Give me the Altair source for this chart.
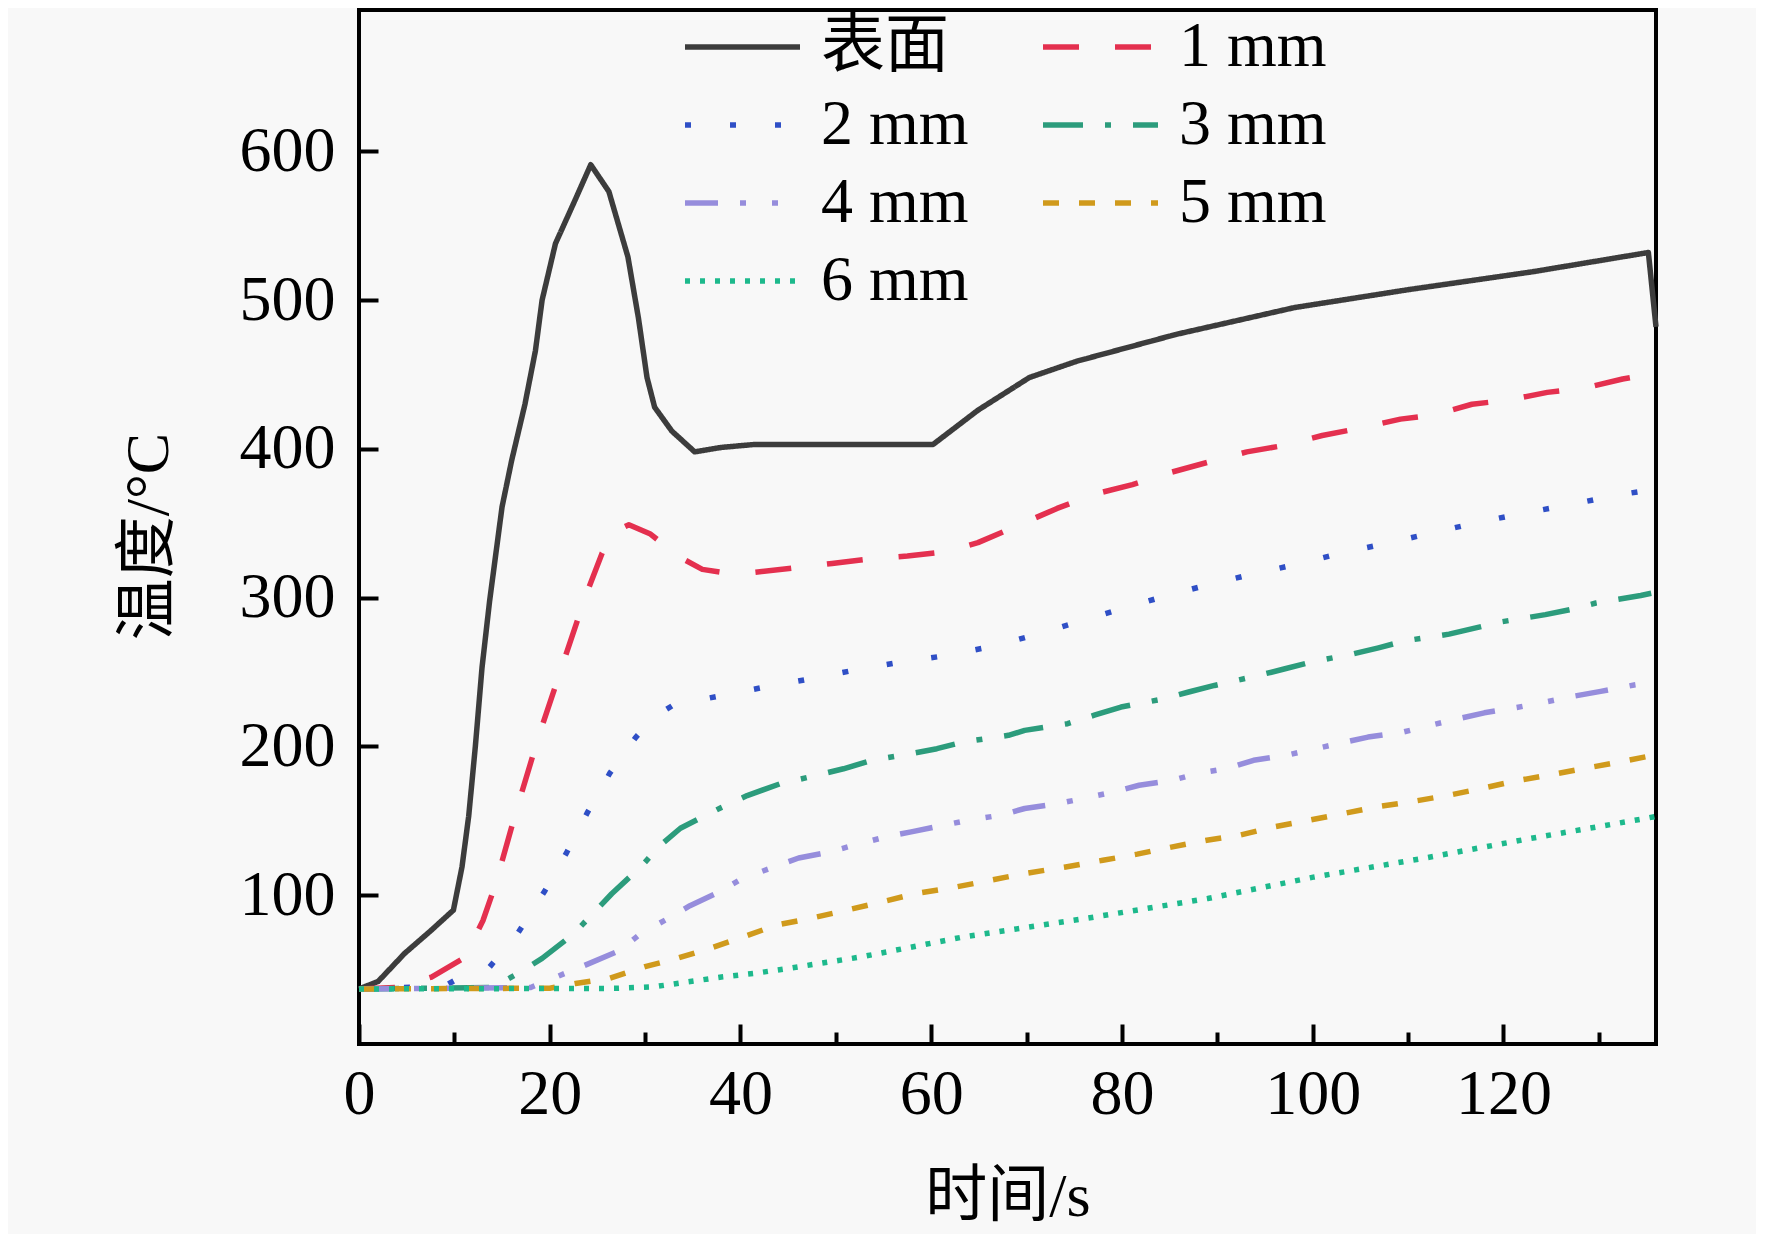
import altair as alt
import pandas as pd

# ---- data ----
series_names = ["表面", "1 mm", "2 mm", "3 mm", "4 mm", "5 mm", "6 mm"]

surface_t = [0, 2, 4.8, 7.5, 9.9, 10.8, 11.5, 12.2, 12.9, 13.7, 15, 16, 17.4, 18.5, 19.2, 20.6, 22.5,
             24.3, 26.2, 28.2, 29.3, 30.2, 31, 32.8, 35.2, 38, 41.5, 46.8, 60.2, 64.9, 70.3, 75.3,
             85.7, 98.1, 110, 123, 135.2, 136]
surface_T = [37, 42, 61, 76, 90, 119, 153, 200, 253, 298, 361, 392, 430, 466, 500, 538, 565,
             591, 573, 529, 488, 448, 428, 412, 398, 401, 403, 403, 403, 426, 448, 459,
             477, 495, 507, 519, 532, 482]

mm1_t = [0, 4, 7.6, 10.8, 12, 13, 14.3, 16.5, 18.8, 21.4, 23.7, 25.5, 27, 28.3, 30.5, 33.7, 36, 38,
         41.4, 45.7, 49.6, 53.5, 57.5, 61.6, 64.9, 68.9, 73.2, 77.4, 81.1, 85, 89, 93.1, 96.7, 101,
         105, 109.2, 112.9, 116.7, 120.7, 124.6, 128.6, 132.5, 136]
mm1_T = [37, 38, 45, 57, 70, 83, 107, 157, 206, 256, 300, 330, 345, 349, 343, 327, 319, 317,
         317, 320, 323, 326, 328, 331, 337, 348, 360, 370, 376, 384, 391, 398, 402, 409,
         414, 420, 423, 430, 433, 438, 441, 447, 451]

mm2_t = [0, 9, 10.1, 13.6, 16.7, 19.5, 21.8, 23.9, 26.3, 29, 31, 33, 37.9, 42.6, 47.4, 52.1, 56.8,
         61.5, 66.2, 70.3, 75, 79.7, 84.4, 89.1, 93.8, 98.5, 103.3, 108.1, 112.7, 117.4, 122.3,
         127.2, 131.9, 135]
mm2_T = [37, 39, 43, 51, 75, 103, 129, 155, 182, 206, 220, 228, 234, 240, 245.5, 251.5, 256.7,
         261, 267, 274, 283, 292, 300.8, 308.8, 316, 322.7, 330.5, 337, 343.8, 350.7, 357,
         362.8, 368.9, 372]

mm3_t = [0, 14, 16.7, 19.2, 22.5, 26.5, 29.7, 31.4, 33.7, 38, 40.7, 44.2, 48, 50.8, 53.8, 57.9,
         60.6, 63.4, 68.1, 69.8, 74.3, 77.1, 79.9, 84.4, 87, 89.7, 94.3, 97.1, 99.8, 104.3, 106.9,
         109.7, 114.3, 117.1, 119.9, 124.4, 127, 129.7, 134.4, 135.5]
mm3_T = [37, 38, 47.5, 57.5, 74, 101, 120, 132.5, 145, 159, 167, 175, 180.6, 185, 190.7, 195.2,
         198.5, 203, 207.5, 210.8, 215.3, 221, 226.5, 232, 236.6, 241, 247.7, 252.2, 256.7, 262.3, 266.3,
         271, 275.5, 279.7, 283.9, 288.6, 292, 296.4, 301.5, 303]

mm4_t = [0, 18, 21.6, 24.1, 27.4, 29.5, 32.3, 34.7, 37.7, 40.1, 43.1, 46.1, 49.3, 51.9, 55.1, 57.9,
         61.3, 63.9, 67.3, 69.8, 73.3, 75.9, 79.1, 81.8, 85.3, 87.9, 91, 93.8, 97.2, 99.8, 103,
         105.8, 109.5, 112.2, 115.1, 118, 121.4, 124.2, 127.4, 130.2, 133.7, 135.5]
mm4_T = [37, 38, 47.5, 54, 63, 74, 84, 93, 102, 111, 118, 125, 129, 133.6, 139, 142.6,
         147, 150.4, 153.8, 158.3, 161.6, 165, 169.4, 173.9, 177.3, 181.8, 185.1, 190.7, 194, 197.8, 202.3,
         206.3, 209.7, 214, 218.4, 222.6, 226.2, 229.6, 233.8, 237, 241.3, 243]

mm5_t = [0, 20, 22.7, 26.2, 30, 33.3, 36.8, 40.3, 43.8, 47, 50.5, 54.5, 58.3, 61.7, 65.4, 69.8,
         74.1, 78, 81.6, 85.3, 88.9, 92.3, 96, 99.6, 103.3, 106.7, 110.2, 114.1, 117.6, 121.1,
         124.8, 128.3, 131.9, 135.2, 136]
mm5_T = [37, 37.5, 40.7, 44, 52, 57.5, 64.3, 72, 80, 84, 89, 95, 101, 104.5, 109, 114.6,
         119, 123.5, 127.6, 132.5, 137, 140.3, 146, 150.4, 155, 159.4, 162.7, 167, 171.6, 176.6,
         180.8, 185, 189.2, 193.4, 194]

mm6_t = [0, 27, 31, 34.5, 38, 41.5, 45, 52.7, 63.4, 76.2, 89, 100.2, 111.5, 122.7, 134.8, 136]
mm6_T = [37, 37.4, 38.5, 41.8, 45, 47.5, 50.8, 58.6, 72, 84.4, 97.8, 112.3, 124.7, 138, 151.5, 153]

series_colors = ["#3c3c3c", "#e4304f", "#2f4fc6", "#2c9c7c", "#968ddc", "#d09a1c", "#1db98c"]
series_dashes = [[1, 0], [36, 36], [6, 39], [40, 22, 6, 22], [33, 22, 6, 26, 6, 22], [16, 20], [5, 10]]

x_major = [0, 20, 40, 60, 80, 100, 120]
x_minor = [10, 30, 50, 70, 90, 110, 130]
y_major = [100, 200, 300, 400, 500, 600]

# ---- long table ----
all_t = [surface_t, mm1_t, mm2_t, mm3_t, mm4_t, mm5_t, mm6_t]
all_T = [surface_T, mm1_T, mm2_T, mm3_T, mm4_T, mm5_T, mm6_T]
frames = []
for name, ts, vs in zip(series_names, all_t, all_T):
    frames.append(pd.DataFrame({"series": name, "t": ts, "T": vs, "order": range(len(ts))}))
df = pd.concat(frames, ignore_index=True)

FONT = "'Liberation Serif', 'Times New Roman', 'Noto Sans CJK SC'"
W, H = 1297, 1034
x_scale = alt.Scale(domain=[0, 136], nice=False, zero=False)
y_scale = alt.Scale(domain=[0, 695], nice=False)

legend = alt.Legend(orient="none", legendX=323, legendY=5, columns=2, direction="horizontal",
                    title=None, labelFont=FONT, labelFontSize=64, labelColor="black",
                    symbolSize=13225, symbolStrokeWidth=5.5, labelOffset=18,
                    columnPadding=71, rowPadding=14, clipHeight=64, padding=0)

lines = alt.Chart(df).mark_line(strokeWidth=5.5, strokeJoin="round").encode(
    x=alt.X("t:Q", scale=x_scale,
            axis=alt.Axis(values=x_major, tickSize=0, domain=False, grid=False, labelFlush=False,
                          labelPadding=18, title="时间/s", titleX=W / 2, titleY=152,
                          titleBaseline="middle")),
    y=alt.Y("T:Q", scale=y_scale,
            axis=alt.Axis(values=y_major, tickSize=0, domain=False, grid=False, labelFlush=False,
                          labelPadding=24, title="温度/°C", titleAngle=270,
                          titleX=-211, titleY=526, titleBaseline="middle", titleAlign="center")),
    color=alt.Color("series:N",
                    scale=alt.Scale(domain=series_names, range=series_colors),
                    legend=legend),
    strokeDash=alt.StrokeDash("series:N",
                              scale=alt.Scale(domain=series_names, range=series_dashes),
                              legend=legend),
    order="order:Q",
)

# inward major ticks (x along bottom, y along left)
ticks_major = alt.Chart(df).mark_point(opacity=0).encode(
    x=alt.X("t:Q", scale=x_scale,
            axis=alt.Axis(orient="top", offset=-H, values=x_major, tickSize=20, tickWidth=4,
                          tickColor="black", labels=False, domain=False, grid=False, title="")),
    y=alt.Y("T:Q", scale=y_scale,
            axis=alt.Axis(orient="right", offset=-W, values=y_major, tickSize=19, tickWidth=4,
                          tickColor="black", labels=False, domain=False, grid=False, title="")),
)

# inward minor ticks on x
ticks_minor = alt.Chart(df).mark_point(opacity=0).encode(
    x=alt.X("t:Q", scale=x_scale,
            axis=alt.Axis(orient="top", offset=-H, values=x_minor, tickSize=12, tickWidth=4,
                          tickColor="black", labels=False, domain=False, grid=False, title="")),
    y=alt.Y("T:Q", scale=y_scale, axis=None),
)

chart = alt.layer(lines, ticks_major, ticks_minor).resolve_axis(
    x="independent", y="independent"
).properties(
    width=W,
    height=H,
    background="#f8f8f8",
    autosize=alt.AutoSizeParams(type="none"),
    padding={"left": 351, "top": 2, "right": 100, "bottom": 190},
).configure_view(
    stroke="black",
    strokeWidth=4,
).configure_axis(
    labelFont=FONT,
    labelFontSize=64,
    labelColor="black",
    titleFont=FONT,
    titleFontSize=62,
    titleFontWeight="normal",
    titleColor="black",
)

chart.save("out.html", embed_options={"renderer": "svg", "actions": False})
